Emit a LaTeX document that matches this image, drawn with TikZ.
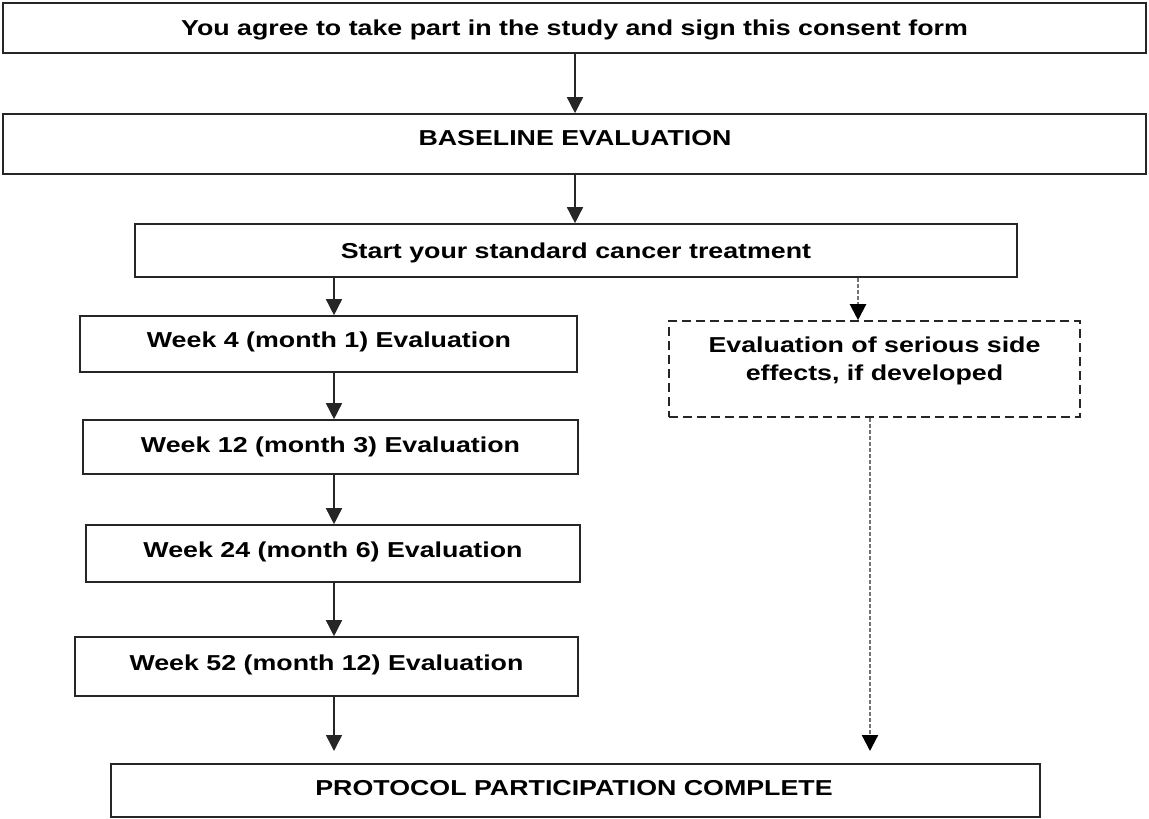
\documentclass[tikz,border=0pt]{standalone}
\usepackage{fontspec}
\setmainfont{Liberation Sans}[FakeStretch=1.24]
\usetikzlibrary{arrows.meta}
\tikzset{
  box/.style={draw=black!85, line width=1.6pt, inner sep=0pt, rectangle},
  dbox/.style={box, dash pattern=on 9pt off 5pt},
  txt/.style={inner sep=0pt, align=center, font=\bfseries\fontsize{21.6}{28}\selectfont},
  btxt/.style={txt, anchor=base},
  arr/.style={line width=1.5pt, draw=black!85, -{Triangle[width=16pt,length=16pt]}},
  darr/.style={line width=2.2pt, draw=black!55, dash pattern=on 4pt off 2pt, -{Triangle[width=16pt,length=16pt,color=black]}}
}
\begin{document}
\begin{tikzpicture}[x=1pt,y=-1pt]
\useasboundingbox (0,0) rectangle (1149,819);
% boxes
\node[box, minimum width=1143pt, minimum height=50pt] (b1) at (574.5,28) {};
\node[btxt] (t1) at (574.5,35) {You agree to take part in the study and sign this consent form};
\node[box, minimum width=1143pt, minimum height=60pt] (b2) at (574.5,144) {};
\node[btxt] (t2) at (575,145) {BASELINE EVALUATION};
\node[box, minimum width=882pt, minimum height=53pt] (b3) at (576,250.5) {};
\node[btxt] (t3) at (576,258) {Start your standard cancer treatment};
\node[box, minimum width=497pt, minimum height=56pt] (w4) at (328.5,344) {};
\node[btxt] (t4) at (329,347) {Week 4 (month 1) Evaluation};
\node[box, minimum width=495pt, minimum height=54pt] (w12) at (330.5,447) {};
\node[btxt] (t12) at (330.5,452.5) {Week 12 (month 3) Evaluation};
\node[box, minimum width=494pt, minimum height=57pt] (w24) at (333,553.5) {};
\node[btxt] (t24) at (333,557.5) {Week 24 (month 6) Evaluation};
\node[box, minimum width=503pt, minimum height=59pt] (w52) at (326.5,666.5) {};
\node[btxt] (t52) at (326.5,670) {Week 52 (month 12) Evaluation};
\node[dbox, minimum width=411pt, minimum height=96pt] (se) at (874.5,369) {};
\node[txt] (tse) at (874.5,361) {Evaluation of serious side\\effects, if developed};
\node[box, minimum width=929pt, minimum height=53pt] (fin) at (575.5,790.5) {};
\node[btxt] (tfin) at (574,795) {PROTOCOL PARTICIPATION COMPLETE};
% connector guides
\coordinate (mx) at (575,0);
\coordinate (lx) at (334,0);
\coordinate (rx1) at (858,0);
\coordinate (rx2) at (870,0);
\coordinate (lend) at (334,751);
\coordinate (rend) at (870,751);
% connectors
\draw[arr] (b1.south -| mx) -- (b2.north -| mx);
\draw[arr] (b2.south -| mx) -- (b3.north -| mx);
\draw[arr] (b3.south -| lx) -- (w4.north -| lx);
\draw[arr] (w4.south -| lx) -- (w12.north -| lx);
\draw[arr] (w12.south -| lx) -- (w24.north -| lx);
\draw[arr] (w24.south -| lx) -- (w52.north -| lx);
\draw[arr] (w52.south -| lx) -- (lend);
\draw[darr] (b3.south -| rx1) -- (se.north -| rx1);
\draw[darr] (se.south -| rx2) -- (rend);
\end{tikzpicture}
\end{document}
